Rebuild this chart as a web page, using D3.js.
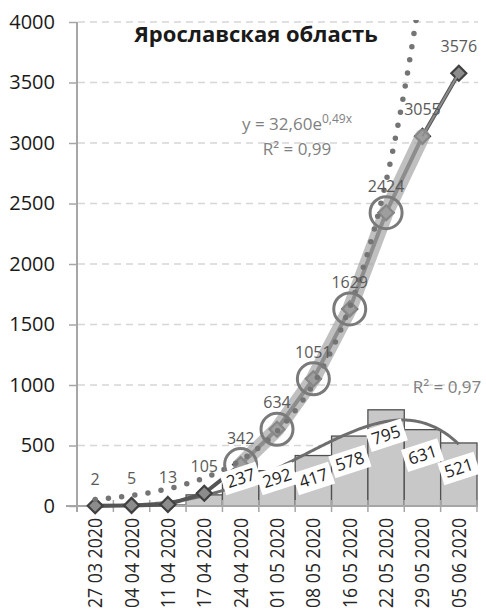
<!DOCTYPE html>
<html><head><meta charset="utf-8">
<script src="https://cdn.jsdelivr.net/npm/d3@7"></script>
<style>
html,body{margin:0;padding:0;background:#fff;}
svg{display:block;font-family:"Open Sans",sans-serif;}
</style></head>
<body>
<svg id="chart" width="486" height="613"></svg>
<script>
// ---- data ----
const dates = ["27 03 2020","04 04 2020","11 04 2020","17 04 2020","24 04 2020","01 05 2020","08 05 2020","16 05 2020","22 05 2020","29 05 2020","05 06 2020"];
const cumulative = [2,5,13,105,342,634,1051,1629,2424,3055,3576];
const weekly = [2,3,8,92,237,292,417,578,795,631,521];
const yTicks = [0,500,1000,1500,2000,2500,3000,3500,4000];
const labeledBars = [4,5,6,7,8,9,10];
const circled = [4,5,6,7,8];
const highlightRange = [4,9];
const expA = 32.60, expB = 0.49;
const title = "Ярославская область";
const expEqMain = "y = 32,60e", expEqSup = "0,49x";
const expR2 = "R² = 0,99";
const polyR2 = "R² = 0,97";
const polyOrder = 4;

// ---- scales ----
const svg = d3.select("#chart");
const x = d3.scaleBand().domain(dates).range([77,477]).padding(0);
const y = d3.scaleLinear().domain([0,4000]).range([506,22]);
const bw = x.bandwidth();
const cx = i => x(dates[i]) + bw/2;
const xIdx = t => x(dates[0]) + bw/2 + (t-1)*bw;

svg.append("defs").append("clipPath").attr("id","plot")
  .append("rect").attr("x",77).attr("y",20).attr("width",405).attr("height",500);

// gridlines
svg.append("g").selectAll("line").data(yTicks.filter(v=>v>0)).join("line")
  .attr("x1",78).attr("x2",478).attr("y1",d=>y(d)).attr("y2",d=>y(d))
  .attr("stroke","#d6d6d6").attr("stroke-width",1.5).attr("stroke-dasharray","7,5");

// bars
svg.append("g").selectAll("rect").data(weekly).join("rect")
  .attr("x",(d,i)=>x(dates[i])).attr("width",bw)
  .attr("y",d=>y(d)).attr("height",d=>y(0)-y(d))
  .attr("fill","#c8c8c8").attr("stroke","#505050").attr("stroke-width",1.3);

// y axis
const yAxis = svg.append("g").attr("transform","translate(77,0)")
  .call(d3.axisLeft(y).tickValues(yTicks).tickSize(8).tickPadding(14).tickFormat(d3.format("d")));
yAxis.select(".domain").remove();
yAxis.selectAll(".tick line").attr("stroke","#a6a6a6").attr("stroke-width",1.5);
yAxis.selectAll(".tick text").attr("font-size",20).attr("fill","#1a1a1a").attr("font-family","Open Sans");
svg.append("line").attr("x1",77).attr("x2",77).attr("y1",22).attr("y2",512)
  .attr("stroke","#a6a6a6").attr("stroke-width",2);

// x axis
svg.append("line").attr("x1",66).attr("x2",478).attr("y1",506).attr("y2",506)
  .attr("stroke","#a6a6a6").attr("stroke-width",2);
svg.append("g").selectAll("line").data(dates).join("line")
  .attr("x1",d=>x(d)+bw).attr("x2",d=>x(d)+bw).attr("y1",500).attr("y2",512)
  .attr("stroke","#a6a6a6").attr("stroke-width",1.5);
svg.append("g").selectAll("text").data(dates).join("text")
  .attr("transform",d=>`translate(${x(d)+bw/2+7},518) rotate(-90)`)
  .attr("text-anchor","end").attr("font-size",20).attr("fill","#262626")
  .attr("textLength",90).attr("lengthAdjust","spacingAndGlyphs")
  .text(d=>d);

// polynomial trendline (least squares on weekly values)
function polyfit(xs, ys, n){
  const m=n+1, A=[];
  for(let r=0;r<m;r++){A.push([]);for(let c=0;c<m;c++){A[r].push(d3.sum(xs,v=>Math.pow(v,r+c)));}A[r].push(d3.sum(xs,(v,k)=>Math.pow(v,r)*ys[k]));}
  for(let c=0;c<m;c++){let p=c;for(let r=c+1;r<m;r++) if(Math.abs(A[r][c])>Math.abs(A[p][c])) p=r;[A[c],A[p]]=[A[p],A[c]];
    for(let r=0;r<m;r++){ if(r===c) continue; const f=A[r][c]/A[c][c]; for(let k=c;k<=m;k++) A[r][k]-=f*A[c][k]; }}
  return A.map((row,i)=>row[m]/row[i]);
}
const xs = weekly.map((d,i)=>i+1);
const coef = polyfit(xs, weekly, polyOrder);
const polyVal = t => coef.reduce((s,c,k)=>s+c*Math.pow(t,k),0);
const tSamples = d3.range(1, 11.001, 0.05);
svg.append("path").attr("clip-path","url(#plot)")
  .attr("d", d3.line().x(t=>xIdx(t)).y(t=>y(polyVal(t))).curve(d3.curveLinear)(tSamples))
  .attr("fill","none").attr("stroke","#6e6e6e").attr("stroke-width",3);

// cumulative line
const line = d3.line().x((d,i)=>cx(i)).y(d=>y(d));
svg.append("path").attr("d",line(cumulative)).attr("fill","none")
  .attr("stroke","#555555").attr("stroke-width",4).attr("stroke-linejoin","round");
svg.append("g").selectAll("path").data(cumulative).join("path")
  .attr("transform",(d,i)=>`translate(${cx(i)},${y(d)})`)
  .attr("d","M0,-7.5L7.5,0L0,7.5L-7.5,0Z")
  .attr("fill","#8c8c8c").attr("stroke","#404040").attr("stroke-width",2.2);

// highlight band
const hl = d3.range(highlightRange[0], highlightRange[1]+1);
svg.append("path").attr("d", d3.line().x(i=>cx(i)).y(i=>y(cumulative[i]))(hl))
  .attr("fill","none").attr("stroke","rgba(165,165,165,0.7)").attr("stroke-width",15)
  .attr("stroke-linecap","round").attr("stroke-linejoin","round");
svg.append("path").attr("d", d3.line().x(i=>cx(i)).y(i=>y(cumulative[i]))([9,10]))
  .attr("fill","none").attr("stroke","#8c8c8c").attr("stroke-width",2);

// exponential trendline (dotted)
const eSamples = d3.range(1, 11.001, 0.02);
svg.append("path").attr("clip-path","url(#plot)")
  .attr("d", d3.line().x(t=>xIdx(t)).y(t=>y(expA*Math.exp(expB*t)))(eSamples.filter(t=>expA*Math.exp(expB*t)<4100)))
  .attr("fill","none").attr("stroke","#747474").attr("stroke-width",5.5)
  .attr("stroke-dasharray","0,13.3").attr("stroke-linecap","round");

// circles
svg.append("g").selectAll("circle").data(circled).join("circle")
  .attr("cx",i=>cx(i)).attr("cy",i=>y(cumulative[i])).attr("r",16)
  .attr("fill","none").attr("stroke","#7a7a7a").attr("stroke-width",3);

// bar labels
const bl = svg.append("g").selectAll("g").data(labeledBars).join("g")
  .attr("transform",i=>`translate(${cx(i)},${Math.min(y(weekly[i])+25,478)}) rotate(-18)`);
bl.append("rect").attr("x",-19).attr("y",-11).attr("width",38).attr("height",23).attr("fill","#fff");
bl.append("text").attr("text-anchor","middle").attr("dy","0.36em").attr("font-size",17)
  .attr("fill","#262626").text(i=>weekly[i]);

// cumulative labels
svg.append("g").selectAll("text").data(cumulative).join("text")
  .attr("x",(d,i)=>cx(i)).attr("y",d=>y(d)-21).attr("text-anchor","middle")
  .attr("font-size",16).attr("fill","#595959").text(d=>d);

// title & equations
svg.append("text").attr("x",256).attr("y",42).attr("text-anchor","middle")
  .attr("font-size",22).attr("font-weight","bold").attr("fill","#1a1a1a").text(title);
const eq = svg.append("text").attr("x",297).attr("y",130).attr("text-anchor","middle")
  .attr("font-size",17).attr("fill","#7f7f7f");
eq.append("tspan").text(expEqMain);
eq.append("tspan").attr("font-size",12).attr("dy",-7).text(expEqSup);
svg.append("text").attr("x",297).attr("y",155).attr("text-anchor","middle")
  .attr("font-size",17).attr("fill","#7f7f7f").text(expR2);
svg.append("text").attr("x",447).attr("y",393).attr("text-anchor","middle")
  .attr("font-size",17).attr("fill","#7f7f7f").text(polyR2);
</script>
</body></html>
